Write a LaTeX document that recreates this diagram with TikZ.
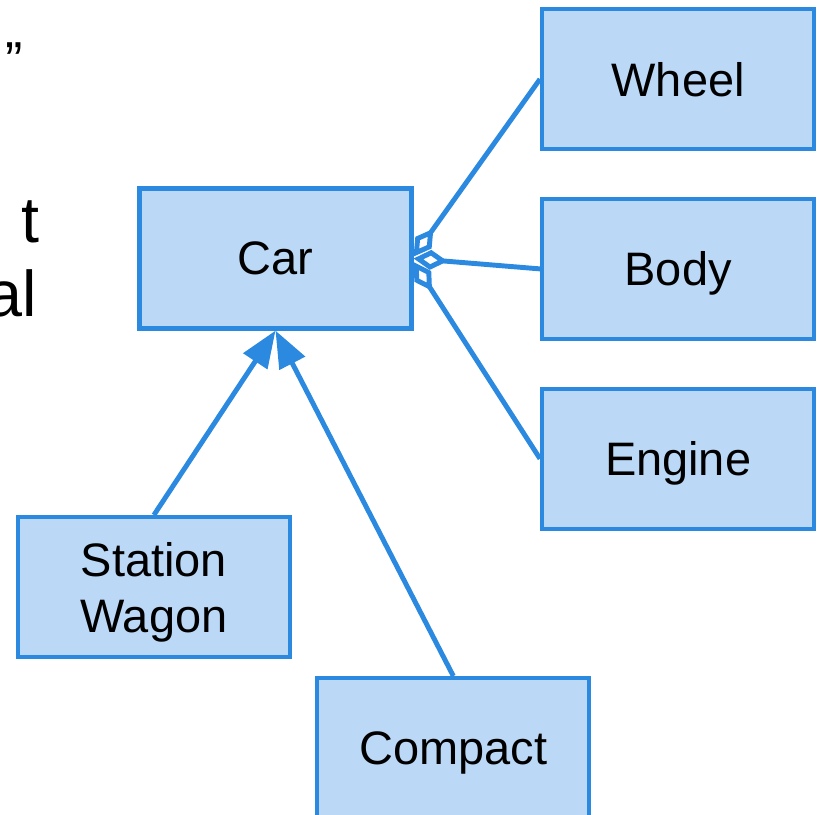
\documentclass[tikz,border=0pt]{standalone}
\usepackage{fontspec}
\setmainfont{Liberation Sans}
\usepackage{xcolor}
\usepackage{tikz}
\usetikzlibrary{positioning}
\usetikzlibrary{arrows.meta}
\definecolor{classfill}{HTML}{BBD8F6}
\definecolor{classline}{HTML}{2B89DF}

\begin{document}
\begin{tikzpicture}[
	cls/.style={rectangle,draw=classline,fill=classfill,line width=3pt,minimum width=6.8cm,minimum height=3.5cm,text depth=0pt,align=center,font=\fontsize{33.4}{39.8}\selectfont},
	inherit/.style={draw=classline,line width=3.5pt,-{Triangle[length=.92cm,width=.7cm]}},
	part/.style={draw=classline,line width=3.5pt,{Diamond[fill=white,length=.85cm,width=.5cm]}-}]
		\useasboundingbox (0,0) rectangle (20.425,-20.375);
		% fragments of the text on the left
		\node[anchor=north west,inner sep=0,font=\fontsize{37}{44}\selectfont] at (0.125,-1.05) (q) {”};
		\node[anchor=base east,inner sep=0,font=\fontsize{46}{56}\selectfont] at (1.0,-6.05) (t1) {t};
		\node[anchor=base east,inner sep=0,font=\fontsize{46}{56}\selectfont] at (0.925,-7.9) (t2) {al};
		
		\node[cls] at (6.8875,-6.4625) (car) {Car};
		\node[cls,above right = 0.88cm and 3.16cm of car] (wheel) {Wheel};
		\node[cls,below = 1.14cm of wheel] (body) {Body};
		\node[cls,below = 1.14cm of body] (engine) {Engine};
		\node[cls,below = 4.61cm of car,xshift=-3.04cm] (wagon) {Station\\Wagon};
		\node[cls,below right = 0.42cm and 0.58cm of wagon] (compact) {Compact};
		
		\draw[inherit] (wagon.north) -- (car.south);
		\draw[inherit] (compact.north) -- (car.south);
		
		\draw[part] ([yshift=0.05cm]car.east) -- (wheel.west);
		\draw[part] ([yshift=-0.09cm]car.east) -- (engine.west);
		\draw[part] (car.east) -- (body.west);
	\end{tikzpicture}
\end{document}
